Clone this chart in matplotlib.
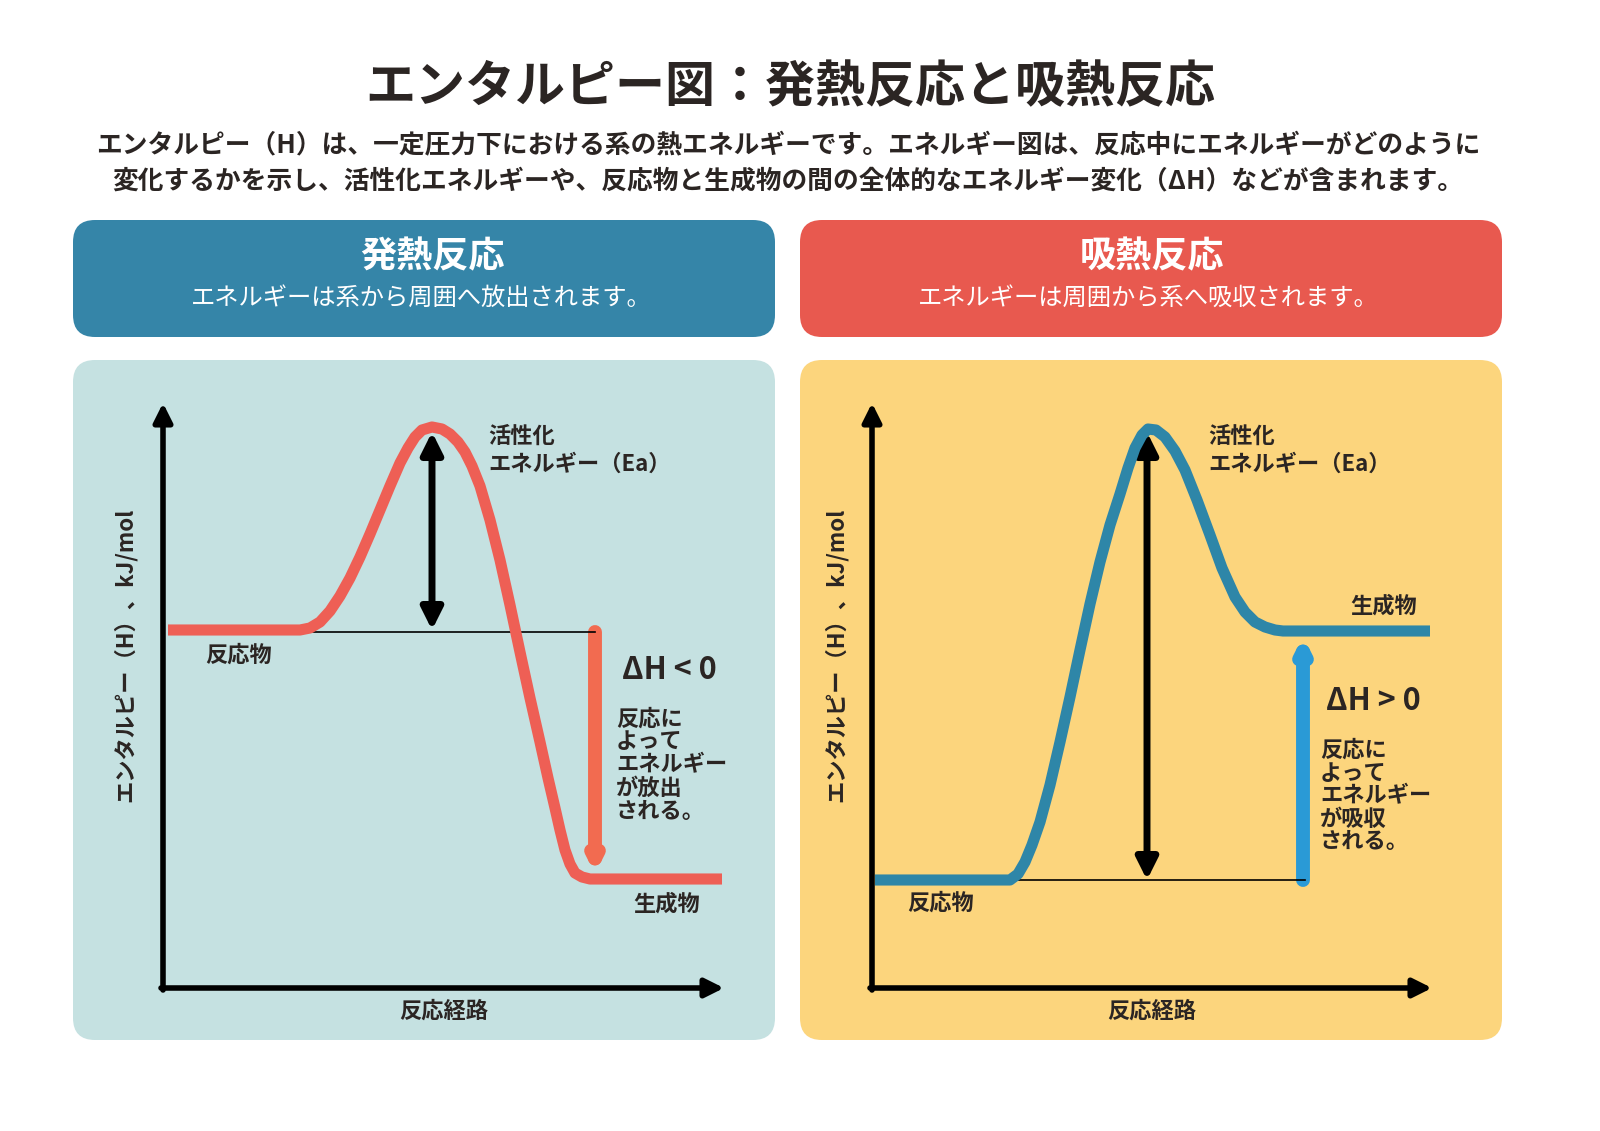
import matplotlib.pyplot as plt
from matplotlib.patches import FancyBboxPatch, FancyArrowPatch

plt.rcParams['font.family'] = ['Noto Sans CJK JP', 'DejaVu Sans']

title = "エンタルピー図：発熱反応と吸熱反応"
subtitle = ["エンタルピー（H）は、一定圧力下における系の熱エネルギーです。エネルギー図は、反応中にエネルギーがどのように",
            "変化するかを示し、活性化エネルギーや、反応物と生成物の間の全体的なエネルギー変化（ΔH）などが含まれます。"]

# curve points (pixel coords)
exo_x = [168, 300, 310, 320, 330, 340, 350, 360, 370, 380, 390, 400, 408, 415, 422, 432, 442, 450, 458, 465,
         472, 480, 490, 500, 510, 520, 530, 540, 548, 555, 560, 565, 570, 575, 582, 590, 722]
exo_y = [630, 630, 628, 622, 611, 596, 578, 557, 534, 510, 486, 463, 448, 437, 430, 427, 429, 434, 442, 452,
         466, 486, 520, 560, 605, 652, 698, 742, 778, 808, 830, 850, 864, 873, 877, 879, 879]
endo_x = [875, 1010, 1018, 1025, 1032, 1040, 1050, 1060, 1070, 1080, 1090, 1100, 1110, 1120, 1128, 1135, 1142, 1148,
          1156, 1165, 1175, 1185, 1197, 1210, 1222, 1235, 1245, 1255, 1265, 1275, 1283, 1290, 1430]
endo_y = [880, 880, 874, 862, 845, 822, 785, 742, 697, 650, 604, 562, 525, 494, 468, 448, 435, 429,
          430, 437, 451, 470, 500, 535, 568, 597, 612, 622, 627, 630, 631, 631, 631]

fig = plt.figure(figsize=(16, 11.31), dpi=100)
ax = fig.add_axes([0, 0, 1, 1])
ax.set_xlim(0, 1600)
ax.set_ylim(1131, 0)
ax.axis('off')

ax.text(790, 88, title, ha='center', va='center', fontsize=36, fontweight='bold', color='#2b2523')
for i, line in enumerate(subtitle):
    ax.text(788, 146 + i * 35, line, ha='center', va='center', fontsize=18.5, fontweight='bold', color='#2b2523')

def box(x0, y0, w, h, color):
    ax.add_patch(FancyBboxPatch((x0, y0), w, h, boxstyle="round,pad=0,rounding_size=22",
                                facecolor=color, edgecolor='none'))

box(73, 220, 702, 117, '#3585a8')
box(800, 220, 702, 117, '#e8594f')
box(73, 360, 702, 680, '#c5e1e1')
box(800, 360, 702, 680, '#fcd57d')

ax.text(432, 257, "発熱反応", ha='center', va='center', fontsize=26, fontweight='bold', color='white')
ax.text(421, 298, "エネルギーは系から周囲へ放出されます。", ha='center', va='center', fontsize=17.5, color='white')
ax.text(1152, 257, "吸熱反応", ha='center', va='center', fontsize=26, fontweight='bold', color='white')
ax.text(1148, 298, "エネルギーは周囲から系へ吸収されます。", ha='center', va='center', fontsize=17.5, color='white')

def arrow(x0, y0, x1, y1, color, lw, style, ms):
    ax.add_patch(FancyArrowPatch((x0, y0), (x1, y1), arrowstyle=style, mutation_scale=ms,
                                 color=color, lw=lw, shrinkA=0, shrinkB=0))

def axes_panel(ox, xend, ylabel_x):
    arrow(ox, 990, ox, 403, 'black', 4, '-|>', 28)
    arrow(ox - 2, 988, xend, 988, 'black', 4, '-|>', 28)
    ax.text(ylabel_x, 655, "エンタルピー（H）、kJ/mol", rotation=90, ha='center', va='center',
            fontsize=16, fontweight='bold', color='#2b2523')
    ax.text((ox + xend) / 2, 1011, "反応経路", ha='center', va='center', fontsize=16, fontweight='bold', color='#2b2523')

axes_panel(163, 724, 125)
axes_panel(872, 1432, 836)

tc = '#2b2523'
# exothermic
ax.plot([310, 595], [632, 632], color='black', lw=1.2)
ax.plot(exo_x, exo_y, color='#ee5f55', lw=8, solid_capstyle='butt', solid_joinstyle='round', zorder=3)
arrow(432, 630, 432, 432, 'black', 5, '<|-|>', 32)
arrow(595, 632, 595, 874, '#f26b50', 10, '-|>', 14)
ax.text(488, 450, "活性化\nエネルギー（Ea）", ha='left', va='center', fontsize=16, fontweight='bold', color=tc, linespacing=1.3)
ax.text(205, 655, "反応物", ha='left', va='center', fontsize=16, fontweight='bold', color=tc)
ax.text(633, 904, "生成物", ha='left', va='center', fontsize=16, fontweight='bold', color=tc)
ax.text(622, 670, "ΔH < 0", ha='left', va='center', fontsize=22, fontweight='bold', color=tc)
ax.text(616, 765, "反応に\nよって\nエネルギー\nが放出\nされる。", ha='left', va='center', fontsize=16,
        fontweight='bold', color=tc, linespacing=1.0)

# endothermic
ax.plot([1010, 1305], [880, 880], color='black', lw=1.2)
ax.plot(endo_x, endo_y, color='#2e86a8', lw=8, solid_capstyle='butt', solid_joinstyle='round', zorder=3)
arrow(1147, 880, 1147, 432, 'black', 5, '<|-|>', 32)
arrow(1303, 880, 1303, 636, '#2a9ad6', 10, '-|>', 14)
ax.text(1208, 450, "活性化\nエネルギー（Ea）", ha='left', va='center', fontsize=16, fontweight='bold', color=tc, linespacing=1.3)
ax.text(907, 903, "反応物", ha='left', va='center', fontsize=16, fontweight='bold', color=tc)
ax.text(1350, 606, "生成物", ha='left', va='center', fontsize=16, fontweight='bold', color=tc)
ax.text(1326, 701, "ΔH > 0", ha='left', va='center', fontsize=22, fontweight='bold', color=tc)
ax.text(1320, 796, "反応に\nよって\nエネルギー\nが吸収\nされる。", ha='left', va='center', fontsize=16,
        fontweight='bold', color=tc, linespacing=1.0)

fig.savefig("out.png", dpi=100, facecolor='white')
